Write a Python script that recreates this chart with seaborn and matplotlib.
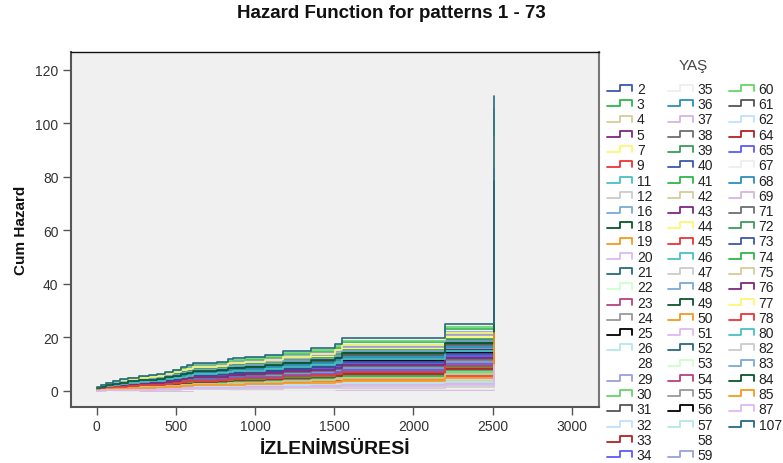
import numpy as np
import pandas as pd
import matplotlib
matplotlib.use("Agg")
import matplotlib.pyplot as plt
import seaborn as sns
from matplotlib.legend_handler import HandlerBase
from matplotlib.lines import Line2D

# ---- data ----
patterns = [2, 3, 4, 5, 7, 9, 11, 12, 16, 18, 19, 20, 21, 22, 23, 24, 25, 26, 28, 29, 30, 31, 32, 33, 34,
            35, 36, 37, 38, 39, 40, 41, 42, 43, 44, 45, 46, 47, 48, 49, 50, 51, 52, 53, 54, 55, 56, 57, 58, 59,
            60, 61, 62, 64, 65, 67, 68, 69, 71, 72, 73, 74, 75, 76, 77, 78, 80, 82, 83, 84, 85, 87, 107]

# cumulative hazard of each pattern on the 2200 - 2510 plateau
level_2200 = [13.5, 23.0, 9.0, 14.3, 20.5, 10.3, 16.6, 3.0, 12.0, 18.5, 4.7, 2.0, 19.0, 3.8, 11.0, 21.2, 15.3,
              6.0, 1.5, 22.0, 7.2, 12.8, 2.8, 8.6, 13.0,
              1.0, 17.5, 0.4, 11.5, 7.8, 9.5, 6.5, 4.2, 15.8, 19.9, 5.5, 16.0, 2.4, 10.8, 18.1, 5.0, 3.4, 14.8,
              1.8, 12.4, 9.9, 14.0, 3.2, 1.2, 20.8,
              23.9, 17.0, 4.4, 8.2, 10.0, 0.8, 16.3, 2.6, 11.8, 19.5, 13.8, 8.9, 6.2, 12.2, 21.6, 9.2, 15.0, 1.6,
              18.8, 17.8, 4.9, 2.2, 25.0]

# step curve of the highest pattern (107)
base_time = [0, 30, 60, 100, 150, 200, 270, 330, 380, 430, 480, 530, 570, 610, 760, 830, 860, 935,
             1063, 1178, 1353, 1505, 1548, 2200, 2510]
base_hazard = [1.5, 2.2, 3.0, 3.8, 4.4, 5.0, 5.6, 6.0, 6.4, 7.2, 8.0, 9.0, 9.6, 10.5, 11.0, 11.9, 12.2,
               12.7, 13.5, 14.9, 16.0, 17.5, 19.7, 25.0, 110.4]

palette30 = ['#3E58AC', '#2EB848', '#D3CE97', '#7C287D', '#FBF873', '#EF3338', '#48C2C5', '#CCCCCC',
             '#7AAAD5', '#0A562C', '#F8981D', '#DDBAF1', '#276A80', '#CCFFCC', '#BB3F7F', '#999999',
             '#000000', '#B6E7E8', '#FFFFFF', '#9C9EDE', '#63D46A', '#555555', '#C0E0FF', '#B22222',
             '#5A5AFF', '#EEEEEE', '#2C8FB8', '#D6B4E0', '#6E6E6E', '#3A9C5A']

xticks = [0, 500, 1000, 1500, 2000, 2500, 3000]
yticks = [0, 20, 40, 60, 80, 100, 120]

# ---- build long table ----
ref = base_hazard[base_time.index(2200)]
rows = []
for p, lvl in zip(patterns, level_2200):
    for t, h in zip(base_time, base_hazard):
        rows.append((t, h * lvl / ref, str(p)))
df = pd.DataFrame(rows, columns=['time', 'cumhaz', 'YAŞ'])

sns.set_theme(style="white")
plt.rcParams['font.family'] = ['Liberation Sans', 'DejaVu Sans']

W, H = 783, 464
fig = plt.figure(figsize=(W / 100, H / 100), dpi=100)
fig.patch.set_facecolor('white')
ax = fig.add_axes([71 / W, 1 - 408 / H, 528 / W, 355 / H])
ax.set_facecolor('#F0F0F0')

order = [str(p) for p in patterns]
colors = {str(p): palette30[i % 30] for i, p in enumerate(patterns)}
sns.lineplot(data=df, x='time', y='cumhaz', hue='YAŞ', hue_order=order, palette=colors,
             estimator=None, sort=False, drawstyle='steps-post', linewidth=1.2,
             legend=False, ax=ax)

ax.set_xlim(-162, 3171)
ax.set_ylim(-6, 126.7)
ax.set_xticks(xticks)
ax.set_yticks(yticks)
ax.tick_params(bottom=True, left=True, direction='out', length=6, width=1, color='#555555',
               labelsize=10, labelcolor='#333333', pad=3)
for side in ['left', 'bottom']:
    ax.spines[side].set_color('#555555')
    ax.spines[side].set_linewidth(1.5)
ax.spines['top'].set_color('#111111')
ax.spines['top'].set_linewidth(1.0)
ax.spines['right'].set_color('#777777')
ax.spines['right'].set_linewidth(1.5)

ax.set_xlabel('İZLENİMSÜRESİ', fontsize=14, fontweight='bold', color='#111111')
ax.xaxis.set_label_coords(0.5, (408 - 441) / 355)
ax.set_ylabel('Cum Hazard', fontsize=11, fontweight='bold', color='#111111')
ax.yaxis.set_label_coords((28 - 71) / 528, 0.5)

fig.suptitle('Hazard Function for patterns 1 - 73', x=0.5, y=1 - 13 / H, va='center',
             fontsize=13.5, fontweight='bold', color='#111111')


class StepHandler(HandlerBase):
    def create_artists(self, legend, orig_handle, xdescent, ydescent, width, height, fontsize, trans):
        x0, y0 = -xdescent, -ydescent
        lo, hi = y0 + 0.2 * height, y0 + 0.8 * height
        xm = x0 + 0.5 * width
        line = Line2D([x0, xm, xm, x0 + width, x0 + width], [lo, lo, hi, hi, lo],
                      color=orig_handle.get_color(), lw=1.3, transform=trans)
        return [line]


handles = [Line2D([], [], color=colors[k]) for k in order]
labels = list(order)
# two empty slots so the columns hold 25 / 25 / 23 entries as in the original
handles += [Line2D([], [], color='none'), Line2D([], [], color='none')]
labels += ['', '']
leg = fig.legend(handles, labels, loc='upper left', bbox_to_anchor=(607 / W, 1 - 83 / H),
                 ncol=3, frameon=False, fontsize=10, handlelength=1.8, handleheight=0.7,
                 handletextpad=0.35, columnspacing=1.1, labelspacing=0.09, borderpad=0,
                 borderaxespad=0, handler_map={Line2D: StepHandler()})
for txt in leg.get_texts():
    txt.set_color('#222222')
fig.text(693 / W, 1 - 66 / H, 'YAŞ', ha='center', va='center', fontsize=11, color='#444444')

fig.savefig('out.png', dpi=100, facecolor='white')
